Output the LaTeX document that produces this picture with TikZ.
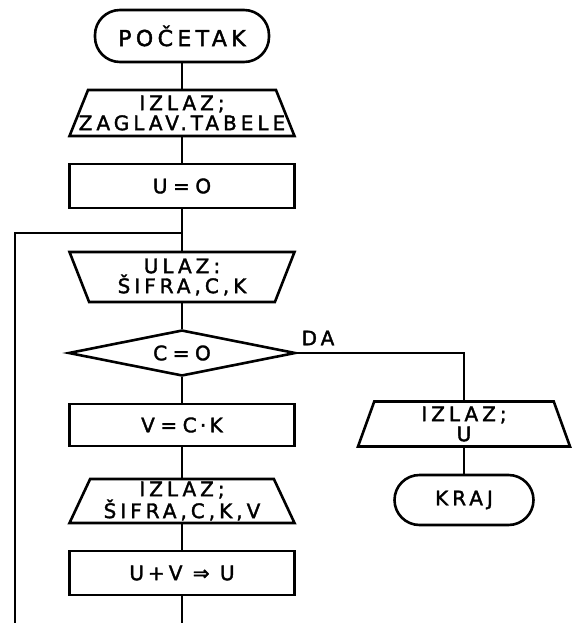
\documentclass[tikz,border=0pt]{standalone}
\usepackage{fontspec}
\setmainfont{DejaVu Sans}[LetterSpace=20, FakeBold=1.8]
\usetikzlibrary{shapes.geometric}
\newcommand{\zt}[1]{\makebox[0pt]{#1}}

\begin{document}
\begin{tikzpicture}[x=1pt, y=-1pt, line width=2.6pt,
    every node/.style={font=\fontsize{20}{20}\selectfont, align=center, inner sep=0pt},
    term/.style={draw, rounded corners=25pt, minimum height=50pt},
    box/.style={draw, rectangle, minimum width=225pt, minimum height=44pt},
    io/.style={draw, trapezium, trapezium left angle=62, trapezium right angle=62,
      trapezium stretches body=true, minimum width=225pt, minimum height=46pt},
    inp/.style={io, shape border rotate=180},
    test/.style={draw, diamond, aspect=4.9, minimum width=227pt, minimum height=46pt}]
\useasboundingbox (0,0) rectangle (571,623);
% glavni tok
\node[term, minimum width=174pt, minimum height=52pt, font=\fontsize{22}{24}\selectfont] (start) at (182,36) {POČETAK};
\node[io] (head) at (182,113) {\zt{IZLAZ;}\\\zt{ZAGLAV.TABELE}};
\node[box] (init) at (182,186) {U\;=\;O};
\node[inp, minimum height=50pt] (read) at (182,277) {\zt{ULAZ:}\\\zt{ŠIFRA,C,K}};
\node[test] (zero) at (182,353) {C\;=\;O};
\node[box, minimum height=42pt] (calc) at (182,425) {V\;=\;C\,·\,K};
\node[io, minimum height=44pt] (print) at (182,501) {\zt{IZLAZ;}\\\zt{ŠIFRA,C,K,V}};
\node[box] (sum) at (182,573) {U+V ⇒ U};
% grana DA
\node (da) at (318,338) {DA};
\node[io, minimum width=212pt, minimum height=45pt, trapezium left angle=65, trapezium right angle=65] (last) at (464,424) {\zt{IZLAZ;}\\\zt{U}};
\node[term, minimum width=139pt] (stop) at (464,500) {KRAJ};
\coordinate (join) at (182,233); \coordinate (end) at (182,623); \coordinate (back) at (15,623);
\draw (start) -- (head); \draw (head) -- (init); \draw (init) -- (read); \draw (read) -- (zero);
\draw (zero) -- (calc); \draw (calc) -- (print); \draw (print) -- (sum); \draw (sum) -- (end);
\draw (back) |- (join);
\draw (zero.east) -| (last.north); \draw (last) -- (stop);
\end{tikzpicture}
\end{document}
